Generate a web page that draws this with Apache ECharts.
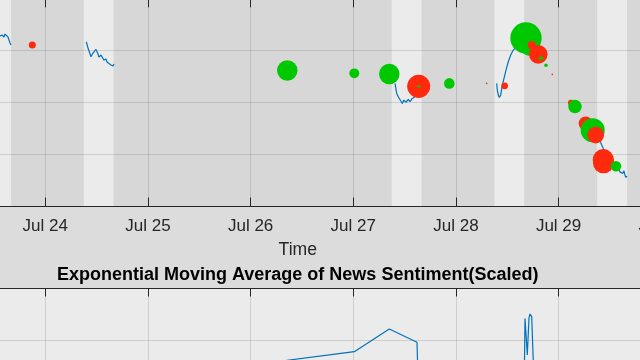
<!DOCTYPE html>
<html><head><meta charset="utf-8">
<script src="https://cdn.jsdelivr.net/npm/echarts@6/dist/echarts.min.js"></script>
<style>html,body{margin:0;padding:0;background:#dcdcdc}#c{width:640px;height:360px}</style>
</head><body><div id="c"></div>
<script>
// x values are days since Jul 23 00:00
const dayLabels = ['Jul 23','Jul 24','Jul 25','Jul 26','Jul 27','Jul 28','Jul 29','Jul 30','Jul 31'];
const tradingDays = [0, 1, 4, 5, 6, 7];
const sessionOpenHour = 9, sessionCloseHour = 16;

const priceJul23Time = [0.4029,0.4419,0.4809,0.5198,0.5587,0.5782,0.5977,0.6074,0.6172,0.6367,0.6464,0.6562,0.6659];
const priceJul23Value = [411.98,412.37,411.79,412.56,412.75,412.94,412.56,413.13,412.75,412.56,412.37,411.40,411.02];
const priceJul24Time = [1.3994,1.4159,1.4451,1.4646,1.4938,1.5133,1.5230,1.5425,1.5717,1.5912,1.6010,1.6204,1.6399,1.6594,1.6691];
const priceJul24Value = [411.65,410.44,408.77,409.48,410.19,409.29,408.71,409.10,408.13,408.33,407.75,407.94,407.17,406.98,407.37];
const priceJul27Time = [4.4064,4.4229,4.4385,4.4619,4.4775,4.4940,4.5135,4.5359,4.5525,4.5749,4.6012,4.6304,4.6597];
const priceJul27Value = [403.65,401.73,401.08,400.31,399.81,400.44,400.00,400.58,400.12,400.77,401.08,401.98,402.37];
const priceJul28Time = [5.3971,5.4029,5.4127,5.4224,5.4361,5.4487,5.4682,5.4877,5.5101,5.5335,5.5588,5.5686,5.6046,5.6436,5.6660];
const priceJul28Value = [403.65,402.37,401.40,400.96,401.40,403.00,404.62,406.21,407.81,409.10,410.06,410.19,411.02,411.60,411.80];
const priceJul29Time = [6.3935,6.4032,6.4130,6.4422,6.4714,6.5006,6.5299,6.5591,6.5815,6.5981,6.6146,6.6244,6.6371,6.6468,6.6565,6.6663];
const priceJul29Value = [393.33,392.56,392.17,390.83,389.87,388.90,388.33,387.75,387.31,386.65,386.98,386.35,386.85,386.02,385.58,385.83];

const newsTime  = [0.8734,3.3573,4.0100,4.3509,4.6373,4.6383,4.9353,5.2996,5.4750,5.6824,5.7213,5.7379,5.8023,5.8286,5.8773,5.9387,6.1208,6.1597,6.2640,6.3322,6.3614,6.4354,6.4374,6.5591];
const newsLevel = [411.02,406.15,405.58,405.44,403.08,403.08,403.65,403.65,403.19,412.37,410.83,411.02,409.23,408.46,407.12,405.38,399.92,399.23,395.96,394.67,393.71,389.00,388.42,387.75];
const newsScore = [-0.22,0.64,0.31,0.64,-0.72,0.09,0.33,-0.05,-0.21,0.98,0.62,-0.25,-0.58,0.13,0.11,-0.05,-0.19,0.42,-0.44,0.75,-0.52,-0.66,-0.66,0.33];

const emaTime  = [0.8734,3.3573,4.0100,4.3509,4.6207,4.6373,4.9353,5.2996,5.4750,5.6680,5.6729,5.6894,5.6953,5.7118,5.7216,5.7382,5.7537,5.8773,6.1597,6.3322,6.4374,6.5591];
const emaValue = [-0.144,0.124,0.157,0.244,0.193,-0.029,0.010,-0.010,-0.029,0.117,0.285,0.279,0.144,0.287,0.302,0.292,0.117,-0.029,-0.010,0.010,-0.067,-0.048];

const INK = '#262626', GRIDC = 'rgba(38,38,38,0.15)', BLUE = '#0072bd';
const LIGHT = '#ebebeb', DARK = '#d7d7d7', POS = '#00c800', NEG = '#ff2a0e';
const FONT = '"Liberation Sans", Arial, Helvetica, sans-serif';

const sessions = [[priceJul23Time,priceJul23Value],[priceJul24Time,priceJul24Value],[priceJul27Time,priceJul27Value],[priceJul28Time,priceJul28Value],[priceJul29Time,priceJul29Value]];
const priceData = [];
sessions.forEach(([t, v], i) => {
  if (i > 0) priceData.push([t[0] - 0.01, null]);
  t.forEach((x, k) => priceData.push([x, v[k]]));
});

const bandData = [];
let prev = -1;
tradingDays.forEach(d => {
  const o = d + sessionOpenHour / 24, c = d + sessionCloseHour / 24;
  bandData.push([prev, o, 0]);
  bandData.push([o, c, 1]);
  prev = c;
});
bandData.push([prev, 9, 0]);

const newsData = newsTime.map((t, i) => ({
  value: [t, newsLevel[i], newsScore[i]],
  itemStyle: { color: newsScore[i] >= 0 ? POS : NEG, opacity: 1 }
}));
const emaData = emaTime.map((t, i) => [t, emaValue[i]]);

const xBase = { type: 'value', min: 0, max: 8, interval: 1 };
const chart = echarts.init(document.getElementById('c'), null, { renderer: 'canvas' });
chart.setOption({
  animation: false,
  backgroundColor: '#dcdcdc',
  grid: [
    { left: -57.36, right: -123.9, top: -1.7, bottom: 153.5, containLabel: false, outerBoundsMode: 'none' },
    { left: -57.36, right: -123.9, top: 288.5, bottom: -136.5, containLabel: false, outerBoundsMode: 'none',
      show: true, backgroundColor: LIGHT, borderWidth: 0 }
  ],
  xAxis: [
    Object.assign({}, xBase, { gridIndex: 0, position: 'bottom',
      axisLine: { onZero: false, lineStyle: { color: INK, width: 1 } },
      axisTick: { inside: true, length: 9, lineStyle: { color: INK } },
      axisLabel: { margin: 11, color: INK, fontSize: 17, fontFamily: FONT,
        formatter: v => dayLabels[Math.round(v)] || '' },
      splitLine: { show: true, lineStyle: { color: GRIDC } } }),
    Object.assign({}, xBase, { gridIndex: 0, position: 'top',
      axisLine: { onZero: false, lineStyle: { color: INK } },
      axisTick: { inside: true, length: 9, lineStyle: { color: INK } },
      axisLabel: { show: false }, splitLine: { show: false } }),
    Object.assign({}, xBase, { gridIndex: 1, position: 'top',
      axisLine: { onZero: false, lineStyle: { color: INK } },
      axisTick: { inside: true, length: 8, lineStyle: { color: INK } },
      axisLabel: { show: false }, splitLine: { show: true, lineStyle: { color: GRIDC } } })
  ],
  yAxis: [
    { gridIndex: 0, type: 'value', min: 380, max: 420, interval: 10,
      axisLine: { show: true, onZero: false, lineStyle: { color: INK } }, axisTick: { inside: true },
      axisLabel: { show: false }, splitLine: { lineStyle: { color: GRIDC } } },
    { gridIndex: 1, type: 'value', min: -0.4, max: 0.4, interval: 0.2,
      axisLine: { show: true, onZero: false, lineStyle: { color: INK } }, axisTick: { inside: true },
      axisLabel: { show: false }, splitLine: { lineStyle: { color: GRIDC } } }
  ],
  graphic: [
    { type: 'text', x: 297.8, y: 250, z: 10,
      style: { text: 'Time', fill: INK, font: '17.6px ' + FONT, align: 'center', verticalAlign: 'middle' } },
    { type: 'text', x: 297.7, y: 275, z: 10,
      style: { text: 'Exponential Moving Average of News Sentiment(Scaled)', fill: '#000000',
        font: 'bold 18px ' + FONT, align: 'center', verticalAlign: 'middle' } }
  ],
  series: [
    { type: 'custom', xAxisIndex: 0, yAxisIndex: 0, z: -5, silent: true, clip: false,
      encode: { x: [0, 1], y: 2 },
      data: bandData,
      renderItem: (params, api) => {
        const x0 = api.coord([api.value(0), 400])[0];
        const x1 = api.coord([api.value(1), 400])[0];
        const cs = params.coordSys;
        return { type: 'rect', shape: { x: x0, y: cs.y, width: x1 - x0, height: cs.height },
          style: { fill: api.value(2) ? LIGHT : DARK } };
      } },
    { type: 'line', xAxisIndex: 0, yAxisIndex: 0, data: priceData, showSymbol: false,
      connectNulls: false, lineStyle: { color: BLUE, width: 1.2 }, z: 2 },
    { type: 'scatter', xAxisIndex: 0, yAxisIndex: 0, data: newsData, z: 3,
      itemStyle: { opacity: 1 },
      symbolSize: v => Math.abs(v[2]) * 32 },
    { type: 'line', xAxisIndex: 2, yAxisIndex: 1, data: emaData, showSymbol: false,
      lineStyle: { color: BLUE, width: 1.2 } }
  ]
});
</script></body></html>
